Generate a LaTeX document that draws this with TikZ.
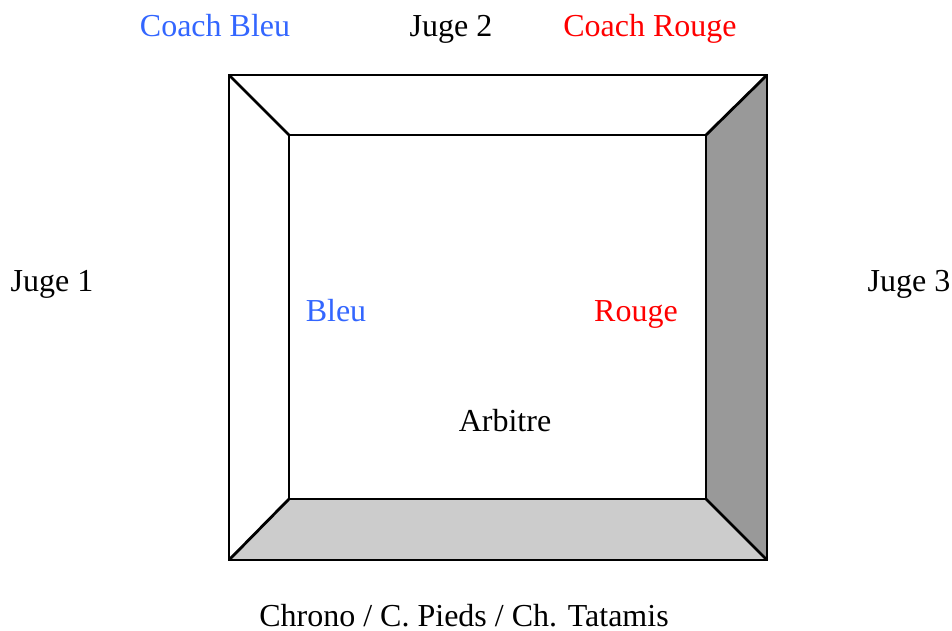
\documentclass[tikz,border=0pt]{standalone}
\usepackage{fontspec}
\setmainfont{Liberation Serif}
\definecolor{cblue}{RGB}{51,102,255}
\definecolor{cred}{RGB}{255,0,0}
\definecolor{rightgray}{RGB}{153,153,153}
\definecolor{bottomgray}{RGB}{204,204,204}
\begin{document}
\begin{tikzpicture}[x=0.5pt,y=-0.5pt,
  lbl/.style={anchor=base,inner sep=0pt,font=\fontsize{16}{19}\selectfont},
  edge/.style={line width=1.4pt,line join=miter}]
\useasboundingbox (0,0) rectangle (952,631);
% outer and inner corners
\coordinate (o1) at (229,75);
\coordinate (o2) at (767,75);
\coordinate (o3) at (767,560);
\coordinate (o4) at (229,560);
\coordinate (i1) at (289,135);
\coordinate (i2) at (706,135);
\coordinate (i3) at (706,499);
\coordinate (i4) at (289,499);
% bevels
\fill[white] (o1) -- (o2) -- (i2) -- (i1) -- cycle;
\fill[white] (o1) -- (i1) -- (i4) -- (o4) -- cycle;
\fill[rightgray] (o2) -- (o3) -- (i3) -- (i2) -- cycle;
\fill[bottomgray] (o4) -- (i4) -- (i3) -- (o3) -- cycle;
\draw[edge] (o1) -- (o2) -- (o3) -- (o4) -- cycle;
\draw[edge] (i1) -- (i2) -- (i3) -- (i4) -- cycle;
\draw[edge] (o1) -- (i1);
\draw[edge] (o2) -- (i2);
\draw[edge] (o3) -- (i3);
\draw[edge] (o4) -- (i4);
% labels
\node[lbl,text=cblue] (coachbleu) at (215,37) {Coach Bleu};
\node[lbl] (juge2) at (451,37) {Juge 2};
\node[lbl,text=cred] (coachrouge) at (650,37) {Coach Rouge};
\node[lbl] (juge1) at (52,291) {Juge 1};
\node[lbl] (juge3) at (909,291) {Juge 3};
\node[lbl,text=cblue] (bleu) at (336,321) {Bleu};
\node[lbl,text=cred] (rouge) at (636,321) {Rouge};
\node[lbl] (arbitre) at (505,431) {Arbitre};
\node[lbl] (chrono) at (464,626) {Chrono / C. Pieds / Ch. Tatamis};
\end{tikzpicture}
\end{document}
